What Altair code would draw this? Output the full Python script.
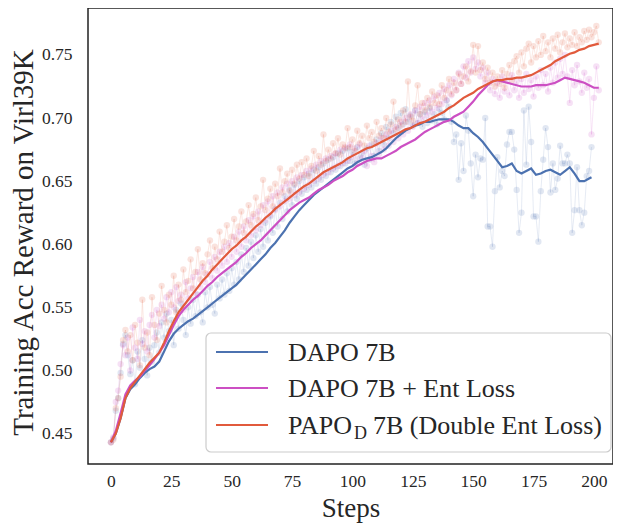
import altair as alt
import pandas as pd

FONT = "Liberation Serif"
TEXT = "#262626"

SERIES = ["DAPO 7B", "DAPO 7B + Ent Loss", "PAPO_D 7B (Double Ent Loss)"]
COLORS = ["#4C72B0", "#CC4FC3", "#E15A3C"]

X_TICKS = [0, 25, 50, 75, 100, 125, 150, 175, 200]
Y_TICKS = [0.45, 0.50, 0.55, 0.60, 0.65, 0.70, 0.75]

# ---- smoothed curves ----
SMOOTH_STEPS_LONG = list(range(0, 203, 2))
SMOOTH_STEPS_BLUE = list(range(0, 199, 2)) + [199]

dapo_smooth = [
    .443, .450, .462, .478, .485, .489, .494, .498, .501, .503,
    .507, .515, .523, .529, .533, .536, .539, .541, .544, .547,
    .550, .553, .556, .559, .562, .565, .568, .572, .576, .580,
    .584, .588, .592, .597, .601, .606, .611, .617, .622, .627,
    .631, .635, .639, .642, .645, .648, .651, .654, .657, .660,
    .662, .665, .667, .668, .669, .671, .673, .676, .680, .684,
    .687, .690, .692, .694, .695, .697, .697, .698, .699, .699,
    .699, .697, .694, .692, .692, .688, .685, .681, .676, .671,
    .666, .661, .662, .664, .658, .656, .658, .660, .655, .656,
    .658, .659, .657, .655, .658, .661, .656, .650, .650, .652,
    .653,
]
ent_smooth = [
    .443, .452, .466, .481, .488, .492, .495, .500, .504, .509,
    .514, .520, .528, .536, .543, .548, .552, .556, .559, .563,
    .567, .570, .574, .577, .580, .583, .586, .590, .593, .597,
    .600, .603, .607, .611, .615, .619, .623, .627, .630, .633,
    .635, .637, .640, .643, .645, .647, .650, .652, .654, .657,
    .659, .662, .664, .666, .667, .668, .668, .670, .672, .674,
    .677, .679, .681, .683, .686, .689, .691, .693, .695, .697,
    .698, .701, .703, .705, .709, .713, .718, .722, .726, .729,
    .730, .729, .728, .727, .726, .725, .725, .725, .726, .726,
    .726, .727, .728, .730, .732, .731, .730, .729, .728, .726,
    .724, .724,
]
papo_smooth = [
    .443, .450, .462, .478, .486, .491, .496, .501, .506, .510,
    .514, .522, .531, .539, .546, .551, .556, .561, .566, .571,
    .575, .580, .584, .588, .592, .596, .599, .603, .606, .610,
    .614, .617, .621, .624, .628, .631, .634, .637, .640, .643,
    .646, .648, .651, .654, .657, .659, .661, .663, .665, .668,
    .670, .672, .674, .676, .677, .679, .681, .683, .685, .687,
    .689, .691, .692, .694, .696, .697, .699, .701, .703, .705,
    .708, .710, .713, .716, .718, .720, .723, .725, .727, .729,
    .730, .730, .731, .731, .732, .732, .733, .734, .736, .738,
    .740, .742, .745, .747, .749, .751, .752, .754, .755, .757,
    .758, .759,
]

# ---- raw per-step rewards ----
dapo_raw = [
    .443, .446, .468, .478, .498, .521, .528, .512, .497, .508,
    .489, .515, .502, .524, .509, .496, .518, .507, .520, .530,
    .514, .538, .526, .545, .531, .540, .520, .548, .533, .553,
    .540, .528, .550, .537, .556, .543, .560, .546, .538, .562,
    .550, .566, .552, .545, .568, .557, .572, .560, .577, .563,
    .581, .568, .586, .572, .592, .578, .597, .583, .602, .589,
    .607, .594, .612, .598, .617, .603, .622, .609, .628, .614,
    .633, .620, .638, .626, .643, .631, .647, .636, .650, .640,
    .653, .643, .656, .645, .659, .648, .661, .651, .664, .654,
    .667, .657, .669, .659, .672, .662, .674, .664, .676, .666,
    .673, .664, .677, .668, .672, .663, .676, .667, .679, .670,
    .683, .674, .688, .679, .693, .684, .697, .688, .701, .692,
    .704, .695, .707, .697, .702, .694, .706, .696, .703, .693,
    .705, .696, .708, .698, .703, .695, .707, .704, .699, .714,
    .709, .697, .681, .687, .651, .680, .658, .702, .690, .664,
    .638, .671, .653, .668, .667, .700, .614, .614, .598, .642,
    .669, .645, .658, .654, .679, .689, .689, .675, .643, .609,
    .625, .706, .663, .709, .681, .622, .622, .602, .642, .667,
    .692, .677, .641, .664, .643, .652, .678, .664, .664, .671,
    .664, .609, .627, .661, .627, .615, .625, .654, .658, .677,
]
ent_raw = [
    .443, .447, .475, .484, .505, .520, .512, .526, .500, .534,
    .518, .509, .540, .521, .531, .515, .536, .544, .526, .548,
    .535, .552, .541, .558, .546, .562, .550, .566, .555, .560,
    .548, .570, .557, .565, .574, .561, .578, .566, .582, .570,
    .576, .586, .573, .590, .579, .594, .583, .598, .586, .601,
    .590, .606, .594, .610, .598, .614, .603, .619, .607, .622,
    .611, .626, .615, .631, .619, .634, .623, .638, .627, .641,
    .630, .645, .634, .648, .636, .650, .639, .653, .641, .655,
    .644, .658, .647, .660, .650, .663, .652, .666, .655, .668,
    .657, .670, .660, .672, .662, .675, .664, .677, .666, .679,
    .669, .676, .664, .679, .668, .674, .662, .678, .670, .665,
    .680, .671, .684, .675, .687, .678, .690, .681, .693, .684,
    .697, .687, .700, .690, .703, .693, .706, .696, .709, .699,
    .712, .702, .714, .705, .717, .708, .720, .711, .723, .714,
    .726, .718, .731, .722, .736, .727, .741, .732, .745, .736,
    .748, .739, .744, .733, .740, .728, .736, .722, .731, .719,
    .728, .716, .733, .721, .730, .718, .734, .722, .729, .716,
    .731, .720, .735, .723, .730, .717, .733, .724, .738, .726,
    .735, .721, .740, .728, .744, .732, .747, .735, .750, .733,
    .712, .738, .726, .742, .729, .720, .736, .724, .731, .687,
    .716, .741, .722,
]
papo_raw = [
    .443, .445, .470, .478, .495, .524, .532, .515, .528, .508,
    .536, .522, .504, .556, .518, .530, .512, .558, .536, .524,
    .545, .567, .548, .538, .560, .552, .575, .546, .568, .556,
    .580, .562, .571, .588, .565, .578, .596, .572, .585, .577,
    .592, .603, .581, .598, .588, .610, .594, .602, .615, .597,
    .606, .620, .603, .614, .626, .609, .618, .631, .615, .624,
    .637, .619, .630, .651, .627, .636, .644, .630, .648, .638,
    .660, .641, .650, .656, .642, .659, .648, .663, .652, .665,
    .655, .668, .654, .662, .674, .658, .670, .663, .687, .666,
    .675, .668, .680, .672, .684, .671, .679, .676, .692, .677,
    .683, .674, .690, .680, .686, .678, .694, .684, .689, .681,
    .697, .686, .692, .684, .700, .689, .695, .713, .691, .699,
    .694, .706, .697, .729, .701, .698, .710, .726, .703, .712,
    .706, .716, .709, .721, .712, .718, .711, .726, .716, .722,
    .731, .719, .728, .722, .735, .727, .733, .741, .729, .737,
    .758, .736, .757, .738, .744, .731, .740, .728, .736, .725,
    .733, .727, .738, .724, .735, .742, .730, .745, .749, .736,
    .752, .741, .755, .759, .744, .757, .748, .761, .750, .765,
    .753, .760, .748, .763, .755, .766, .752, .760, .767, .756,
    .763, .758, .768, .757, .764, .760, .769, .762, .770, .764,
    .768, .773, .760,
]

raw_sets = [dapo_raw, ent_raw, papo_raw]
smooth_sets = [(SMOOTH_STEPS_BLUE, dapo_smooth),
               (SMOOTH_STEPS_LONG, ent_smooth),
               (SMOOTH_STEPS_LONG, papo_smooth)]

x_scale = alt.Scale(domain=[-9.5, 207.9], nice=False, zero=False)
y_scale = alt.Scale(domain=[0.4258, 0.7872], nice=False, zero=False)

x_axis = alt.Axis(values=X_TICKS, title="Steps", grid=False, domain=False, ticks=False,
                  tickSize=0, labelFont=FONT, labelFontSize=17.5, labelColor=TEXT,
                  labelPadding=8, titleFont=FONT, titleFontSize=27, titleFontWeight="normal",
                  titleColor=TEXT, titleY=52, titleBaseline="alphabetic")
y_axis = alt.Axis(values=Y_TICKS, format=".2f", title="Training Acc Reward on Virl39K",
                  grid=False, domain=False, ticks=False, tickSize=0, labelFont=FONT,
                  labelFontSize=17.5, labelColor=TEXT, labelPadding=16, titleFont=FONT,
                  titleFontSize=29, titleFontWeight="normal", titleColor=TEXT,
                  titleX=-50, titleY=234, titleBaseline="bottom")

layers = []
for i, name in enumerate(SERIES):
    raw = raw_sets[i]
    df = pd.DataFrame({"step": list(range(len(raw))), "value": raw, "series": name})
    base = alt.Chart(df).encode(
        x=alt.X("step:Q", scale=x_scale, axis=x_axis),
        y=alt.Y("value:Q", scale=y_scale, axis=y_axis),
    )
    layers.append(base.mark_line(color=COLORS[i], strokeWidth=1, opacity=0.14))
    layers.append(base.mark_circle(color=COLORS[i], size=40, opacity=0.17))

for i, name in enumerate(SERIES):
    steps, vals = smooth_sets[i]
    df = pd.DataFrame({"step": steps, "value": vals, "series": name})
    layers.append(alt.Chart(df).mark_line(color=COLORS[i], strokeWidth=2.2).encode(
        x=alt.X("step:Q", scale=x_scale, axis=x_axis),
        y=alt.Y("value:Q", scale=y_scale, axis=y_axis),
    ))

# ---- legend (decoration) ----
one = pd.DataFrame({"a": [0]})
layers.append(alt.Chart(one).mark_rect(fill="white", fillOpacity=0.85, stroke="#cccccc",
                                       strokeWidth=1.2, cornerRadius=5).encode(
    x=alt.value(118), x2=alt.value(523), y=alt.value(325), y2=alt.value(444)))
row_y = [344, 380, 417]
for i in range(3):
    layers.append(alt.Chart(one).mark_rule(color=COLORS[i], strokeWidth=2.2).encode(
        x=alt.value(128), x2=alt.value(180), y=alt.value(row_y[i])))


def txt(s, x, y, size):
    return alt.Chart(pd.DataFrame({"t": [s]})).mark_text(
        align="left", baseline="alphabetic", font=FONT, fontSize=size, color=TEXT
    ).encode(x=alt.value(x), y=alt.value(y), text="t:N")


layers.append(txt("DAPO 7B", 200, row_y[0] + 9, 26))
layers.append(txt("DAPO 7B + Ent Loss", 200, row_y[1] + 9, 26))
layers.append(txt("PAPO", 200, row_y[2] + 9, 26))
layers.append(txt("D", 266, row_y[2] + 14, 18))
layers.append(txt("7B (Double Ent Loss)", 285, row_y[2] + 9, 26))

chart = alt.layer(*layers).properties(
    width=525, height=456,
    padding={"left": 80, "top": 0, "right": 0, "bottom": 60},
    autosize=alt.AutoSizeParams(type="none"),
).configure_view(stroke="#222222", strokeWidth=1.5)

chart.save("out.html", embed_options={"renderer": "svg", "actions": False})
